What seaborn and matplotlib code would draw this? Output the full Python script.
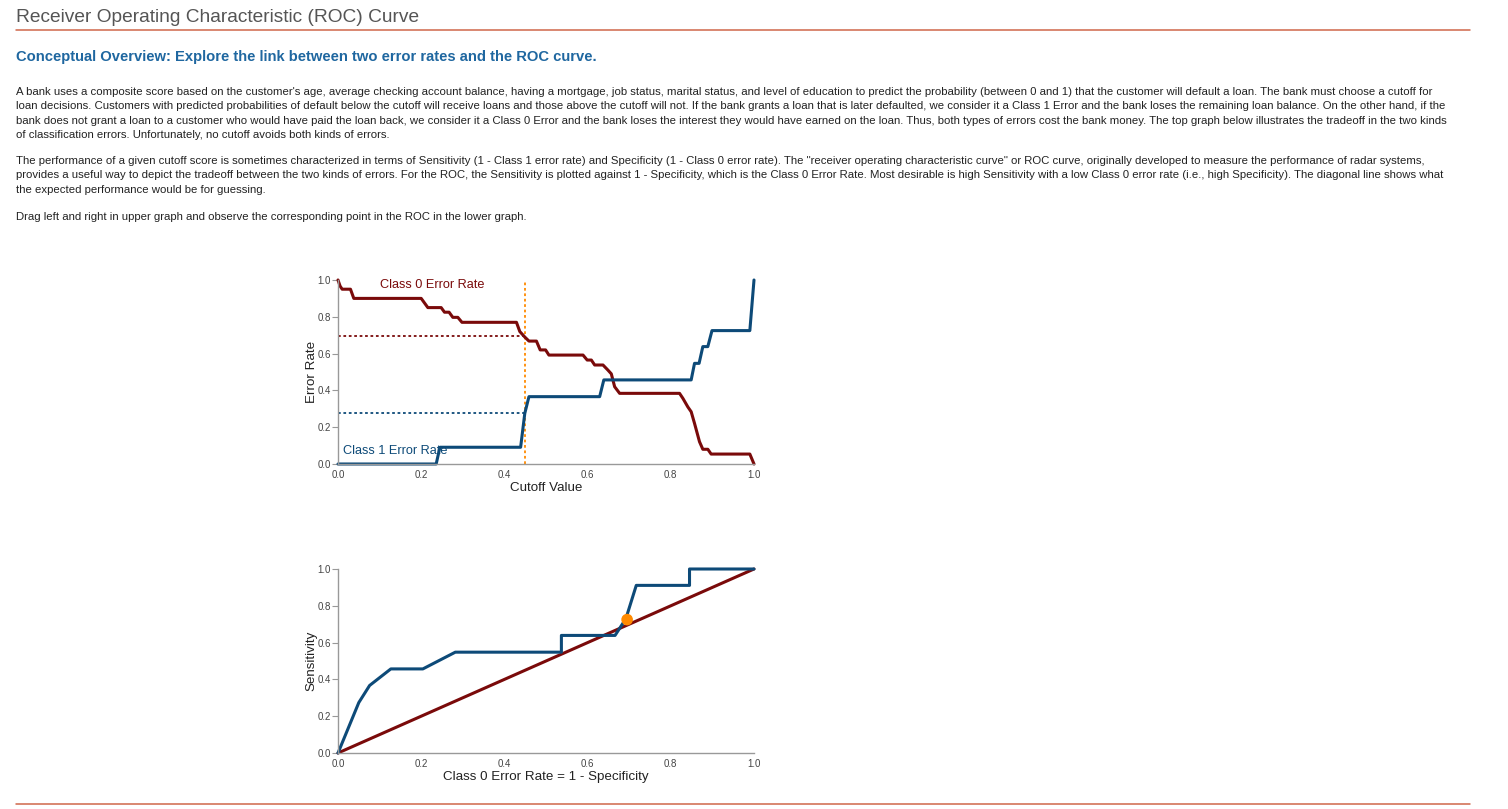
import matplotlib
matplotlib.use("Agg")
import matplotlib.pyplot as plt
from matplotlib.lines import Line2D
import seaborn as sns
import pandas as pd

# values
cutoff_c0 = [0, 0.005, 0.01, 0.03, 0.038, 0.2, 0.216, 0.248, 0.256, 0.267, 0.276, 0.288,
             0.298, 0.429, 0.437, 0.449, 0.459, 0.477, 0.486, 0.499, 0.507, 0.589, 0.599,
             0.609, 0.617, 0.637, 0.649, 0.657, 0.665, 0.677, 0.821, 0.829, 0.841, 0.849,
             0.857, 0.869, 0.877, 0.889, 0.897, 0.99, 1.0]
class0_err = [1.0, 0.967, 0.95, 0.95, 0.90, 0.90, 0.85, 0.85, 0.825, 0.825, 0.797, 0.797,
              0.77, 0.77, 0.72, 0.69, 0.668, 0.668, 0.62, 0.62, 0.592, 0.592, 0.565,
              0.565, 0.538, 0.538, 0.51, 0.49, 0.42, 0.384, 0.384, 0.357, 0.31, 0.284,
              0.221, 0.121, 0.08, 0.08, 0.054, 0.054, 0.0]

cutoff_c1 = [0, 0.236, 0.245, 0.439, 0.449, 0.459, 0.629, 0.639, 0.849, 0.857, 0.868,
             0.877, 0.889, 0.899, 0.99, 1.0]
class1_err = [0, 0, 0.091, 0.091, 0.275, 0.366, 0.366, 0.457, 0.457, 0.547, 0.547,
              0.638, 0.638, 0.725, 0.725, 1.0]

roc_fpr = [0, 0.05, 0.076, 0.127, 0.204, 0.282, 0.537, 0.537, 0.666, 0.692, 0.717, 0.845, 0.845, 1.0]
roc_tpr = [0, 0.274, 0.367, 0.457, 0.457, 0.548, 0.548, 0.639, 0.639, 0.73, 0.911, 0.911, 1.0, 1.0]

diag = [0, 1]

cutoff = 0.45
class0_at_cutoff = 0.695
class1_at_cutoff = 0.275

ticks = [0, 0.2, 0.4, 0.6, 0.8, 1.0]
tick_labels = ["0.0", "0.2", "0.4", "0.6", "0.8", "1.0"]

title = "Receiver Operating Characteristic (ROC) Curve"
subtitle = "Conceptual Overview: Explore the link between two error rates and the ROC curve."
para1 = [
    "A bank uses a composite score based on the customer's age, average checking account balance, having a mortgage, job status, marital status, and level of education to predict the probability (between 0 and 1) that the customer will default a loan. The bank must choose a cutoff for",
    "loan decisions. Customers with predicted probabilities of default below the cutoff will receive loans and those above the cutoff will not. If the bank grants a loan that is later defaulted, we consider it a Class 1 Error and the bank loses the remaining loan balance. On the other hand, if the",
    "bank does not grant a loan to a customer who would have paid the loan back, we consider it a Class 0 Error and the bank loses the interest they would have earned on the loan. Thus, both types of errors cost the bank money. The top graph below illustrates the tradeoff in the two kinds",
    "of classification errors. Unfortunately, no cutoff avoids both kinds of errors.",
]
para2 = [
    "The performance of a given cutoff score is sometimes characterized in terms of Sensitivity (1 - Class 1 error rate) and Specificity (1 - Class 0 error rate). The \"receiver operating characteristic curve\" or ROC curve, originally developed to measure the performance of radar systems,",
    "provides a useful way to depict the tradeoff between the two kinds of errors. For the ROC, the Sensitivity is plotted against 1 - Specificity, which is the Class 0 Error Rate. Most desirable is high Sensitivity with a low Class 0 error rate (i.e., high Specificity). The diagonal line shows what",
    "the expected performance would be for guessing.",
]
para3 = ["Drag left and right in upper graph and observe the corresponding point in the ROC in the lower graph."]

RED = "#7a0a0a"
BLUE = "#0d4a78"
ORANGE = "#ff8a00"
RULE = "#d0674a"

sns.set_theme(style="white")
plt.rcParams["font.family"] = ["Liberation Sans", "DejaVu Sans"]

W, H = 1508, 809
fig = plt.figure(figsize=(W / 100, H / 100), dpi=100)


def px(x, y):
    return x / W, 1 - y / H


# header text
fig.text(*px(16, 18), title, fontsize=13.8, color="#555555", va="center", ha="left")
fig.add_artist(Line2D([16 / W, 1470 / W], [1 - 30 / H] * 2, color=RULE, lw=1.1))
fig.add_artist(Line2D([16 / W, 1470 / W], [1 - 804 / H] * 2, color=RULE, lw=1.1))
fig.text(*px(16, 57), subtitle, fontsize=10.6, color="#1f67a0", fontweight="bold",
         va="center", ha="left")

for lines, y0 in [(para1, 92), (para2, 161), (para3, 217)]:
    for i, line in enumerate(lines):
        fig.text(*px(16, y0 + i * 14.4), line, fontsize=8.2, color="#222222",
                 va="center", ha="left")


def style_axes(ax):
    ax.set_xlim(0, 1)
    ax.set_ylim(0, 1)
    ax.set_xticks(ticks)
    ax.set_yticks(ticks)
    ax.set_xticklabels(tick_labels)
    ax.set_yticklabels(tick_labels)
    sns.despine(ax=ax)
    for s in ["left", "bottom"]:
        ax.spines[s].set_color("#999999")
        ax.spines[s].set_linewidth(1)
    ax.tick_params(axis="both", which="major", width=0.8, color="#999999",
                   labelsize=7, labelcolor="#444444", direction="out",
                   bottom=True, left=True)
    ax.tick_params(axis="y", length=4, pad=1)
    ax.tick_params(axis="x", length=0, pad=4)
    ax.patch.set_alpha(0)


# upper graph: error rates vs cutoff
ax1 = fig.add_axes([338 / W, 1 - 464 / H, 416 / W, 184 / H])
df0 = pd.DataFrame({"cutoff": cutoff_c0, "err": class0_err})
df1 = pd.DataFrame({"cutoff": cutoff_c1, "err": class1_err})
ax1.plot([cutoff, cutoff], [0, 1], color=ORANGE, lw=1.3, ls=(0, (1.5, 1.5)))
ax1.plot([0, cutoff], [class0_at_cutoff] * 2, color=RED, lw=1.3, ls=(0, (1.5, 1.5)))
ax1.plot([0, cutoff], [class1_at_cutoff] * 2, color=BLUE, lw=1.3, ls=(0, (1.5, 1.5)))
sns.lineplot(data=df0, x="cutoff", y="err", sort=False, estimator=None, color=RED,
             lw=2.2, ax=ax1, clip_on=False)
sns.lineplot(data=df1, x="cutoff", y="err", sort=False, estimator=None, color=BLUE,
             lw=2.2, ax=ax1, clip_on=False)
ax1.text(0.1, 0.975, "Class 0 Error Rate", color=RED, fontsize=9.2, va="center", ha="left")
ax1.text(0.012, 0.072, "Class 1 Error Rate", color=BLUE, fontsize=9.2, va="center", ha="left")
style_axes(ax1)
ax1.set_xlabel("Cutoff Value", fontsize=9.6, color="#222222", labelpad=2)
ax1.set_ylabel("Error Rate", fontsize=9.6, color="#222222", labelpad=0)

# lower graph: ROC
ax2 = fig.add_axes([338 / W, 1 - 753 / H, 416 / W, 184 / H])
roc = pd.DataFrame({"fpr": roc_fpr, "tpr": roc_tpr})
sns.lineplot(x=diag, y=diag, color=RED, lw=2.2, ax=ax2, clip_on=False)
sns.lineplot(data=roc, x="fpr", y="tpr", sort=False, estimator=None, color=BLUE,
             lw=2.2, ax=ax2, clip_on=False)
sns.scatterplot(x=[class0_at_cutoff], y=[1 - class1_at_cutoff], color=ORANGE, s=70,
                edgecolor="none", ax=ax2, zorder=5, clip_on=False)
style_axes(ax2)
ax2.set_xlabel("Class 0 Error Rate = 1 - Specificity", fontsize=9.6, color="#222222", labelpad=2)
ax2.set_ylabel("Sensitivity", fontsize=9.6, color="#222222", labelpad=0)

fig.savefig("out.png", dpi=100)
